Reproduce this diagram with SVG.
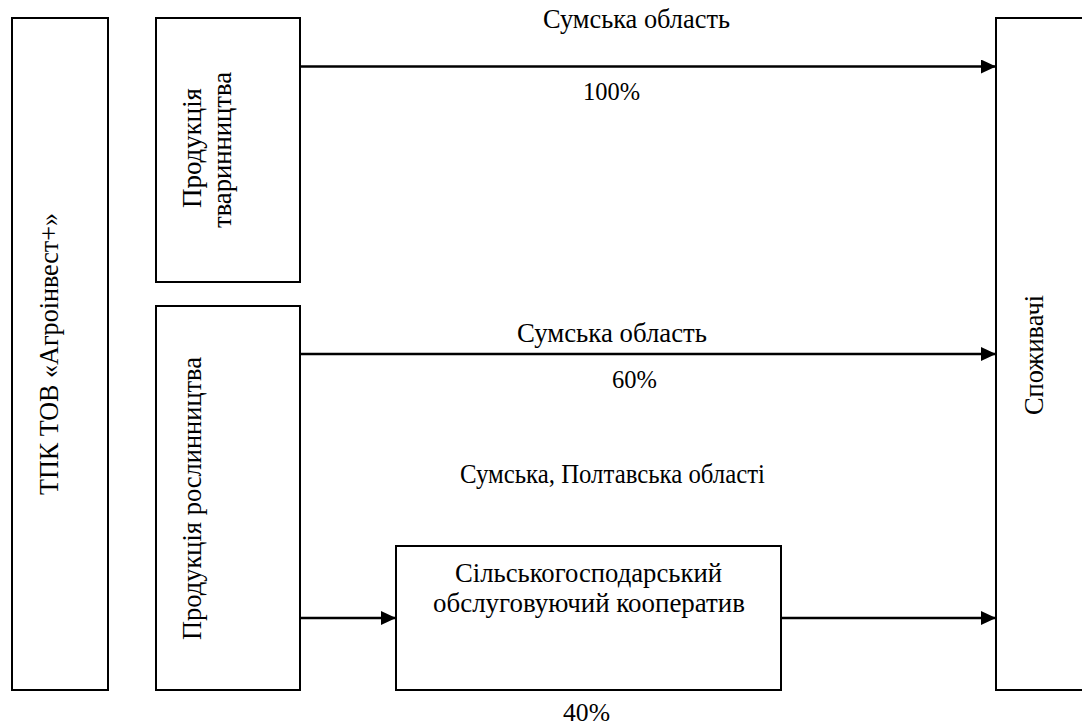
<svg xmlns="http://www.w3.org/2000/svg" width="1082" height="724" viewBox="0 0 1082 724">
<style>
.box{fill:#fff;stroke:#000;stroke-width:2}
.t{font-family:"Liberation Serif","Tinos","Times New Roman","DejaVu Serif",serif;font-size:26.5px;fill:#000}
.n{font-size:25px}
.c{text-anchor:middle}
.ln{stroke:#000;stroke-width:2.5;fill:none;marker-end:url(#ah)}
</style>
<defs>
<marker id="ah" markerUnits="userSpaceOnUse" markerWidth="16" markerHeight="16" refX="15" refY="7" orient="auto">
<path d="M0,0 L15,7 L0,14 Z" fill="#000"/>
</marker>
</defs>
<rect width="1082" height="724" fill="#fff"/>
<g id="tpk">
<rect class="box" x="12" y="18" width="96" height="672"/>
<text class="t c" transform="translate(58,354) rotate(-90)" textLength="282" lengthAdjust="spacingAndGlyphs">ТПК ТОВ «Агроінвест+»</text>
</g>
<g id="tvarynnytstvo">
<rect class="box" x="156" y="18" width="144" height="264"/>
<text class="t c" transform="translate(201,148) rotate(-90)" textLength="120" lengthAdjust="spacingAndGlyphs">Продукція</text>
<text class="t c" transform="translate(231,150) rotate(-90)" textLength="156" lengthAdjust="spacingAndGlyphs">тваринництва</text>
</g>
<g id="roslynnytstvo">
<rect class="box" x="156" y="306" width="144" height="384"/>
<text class="t c" transform="translate(201,498.5) rotate(-90)" textLength="283" lengthAdjust="spacingAndGlyphs">Продукція рослинництва</text>
</g>
<g id="kooperatyv">
<rect class="box" x="396" y="546" width="385" height="144"/>
<text class="t c" x="588.5" y="582" textLength="267" lengthAdjust="spacingAndGlyphs">Сільськогосподарський</text>
<text class="t c" x="589" y="612" textLength="312" lengthAdjust="spacingAndGlyphs">обслуговуючий кооператив</text>
</g>
<g id="spozhyvachi">
<rect class="box" x="996" y="18" width="100" height="672"/>
<text class="t c" transform="translate(1043,355) rotate(-90)" textLength="120" lengthAdjust="spacingAndGlyphs">Споживачі</text>
</g>
<g id="connectors">
<line class="ln" x1="300" y1="66.5" x2="996" y2="66.5"/>
<line class="ln" x1="300" y1="354" x2="996" y2="354"/>
<line class="ln" x1="300" y1="618" x2="396" y2="618"/>
<line class="ln" x1="781" y1="618" x2="996" y2="618"/>
</g>
<g id="labels">
<text class="t c" x="636.5" y="28" textLength="187" lengthAdjust="spacingAndGlyphs">Сумська область</text>
<text class="t n c" x="611.5" y="100" textLength="57" lengthAdjust="spacingAndGlyphs">100%</text>
<text class="t c" x="612" y="342" textLength="190" lengthAdjust="spacingAndGlyphs">Сумська область</text>
<text class="t n c" x="634.5" y="388" textLength="45" lengthAdjust="spacingAndGlyphs">60%</text>
<text class="t c" x="612.5" y="483" textLength="305" lengthAdjust="spacingAndGlyphs">Сумська, Полтавська області</text>
<text class="t n c" x="586.5" y="721" textLength="47" lengthAdjust="spacingAndGlyphs">40%</text>
</g>
</svg>
